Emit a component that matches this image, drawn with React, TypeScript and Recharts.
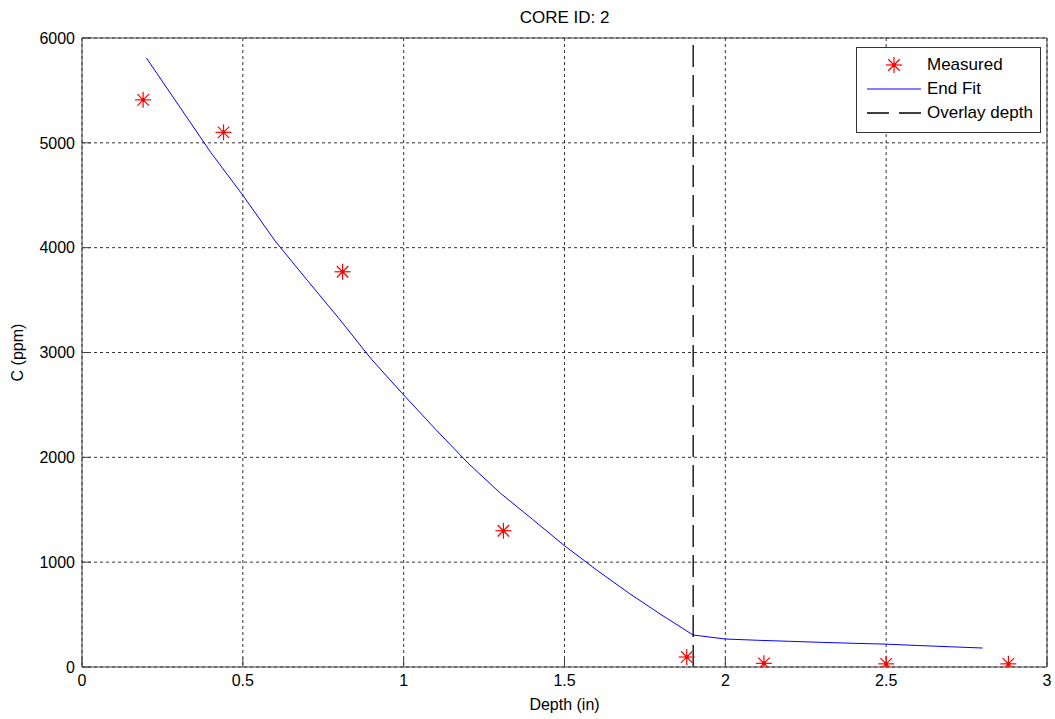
import {
  CartesianGrid,
  ComposedChart,
  Line,
  ReferenceLine,
  Scatter,
  XAxis,
  YAxis,
} from 'recharts'

const measuredDepth = [0.19, 0.44, 0.81, 1.31, 1.88, 2.12, 2.5, 2.88]
const measuredC = [5410, 5100, 3770, 1300, 95, 35, 30, 30]

const fitDepth = [
  0.2, 0.3, 0.4, 0.5, 0.6, 0.7, 0.8, 0.9, 1.0, 1.1, 1.2, 1.3, 1.4, 1.5, 1.6, 1.7, 1.8, 1.9,
  2.0, 2.1, 2.2, 2.3, 2.4, 2.5, 2.6, 2.7, 2.8,
]
const fitC = [
  5810, 5360, 4910, 4500, 4065, 3690, 3320, 2935, 2595, 2265, 1945, 1660, 1410, 1157, 925, 705,
  500, 305, 267, 255, 245, 235, 226, 218, 205, 193, 181,
]

const overlayDepth = 1.9

const xTicks = [0, 0.5, 1, 1.5, 2, 2.5, 3]
const yTicks = [0, 1000, 2000, 3000, 4000, 5000, 6000]

const measured = measuredDepth.map((x, i) => ({ x, c: measuredC[i] }))
const fit = fitDepth.map((x, i) => ({ x, c: fitC[i] }))

const FONT = '"Liberation Sans", Arial, sans-serif'
const AXIS = '#404040'
const tickStyle = { fill: '#000', fontSize: 16, fontFamily: FONT }

function Star({ cx, cy, size = 8 }: { cx?: number; cy?: number; size?: number }) {
  if (cx == null || cy == null) return null
  const d = size * 0.72
  return (
    <g stroke="#ff0000" strokeWidth={1.2}>
      <line x1={cx - size} y1={cy} x2={cx + size} y2={cy} />
      <line x1={cx} y1={cy - size} x2={cx} y2={cy + size} />
      <line x1={cx - d} y1={cy - d} x2={cx + d} y2={cy + d} />
      <line x1={cx - d} y1={cy + d} x2={cx + d} y2={cy - d} />
      <circle cx={cx} cy={cy} r={2} fill="#ff0000" stroke="none" />
    </g>
  )
}

function LegendBox() {
  const row = { display: 'flex', alignItems: 'center', height: 24 }
  return (
    <div
      style={{
        position: 'absolute',
        left: 856,
        top: 47,
        width: 183,
        height: 79,
        border: '1px solid #333',
        background: '#fff',
        fontFamily: FONT,
        fontSize: 17,
        color: '#000',
        padding: '5px 0 0 0',
        boxSizing: 'content-box',
      }}
    >
      <div style={row}>
        <svg width={70} height={24}>
          <Star cx={37} cy={12} />
        </svg>
        <span>Measured</span>
      </div>
      <div style={row}>
        <svg width={70} height={24}>
          <line x1={10} y1={12} x2={64} y2={12} stroke="#0000ff" strokeWidth={1} />
        </svg>
        <span>End Fit</span>
      </div>
      <div style={row}>
        <svg width={70} height={24}>
          <line x1={10} y1={12} x2={64} y2={12} stroke="#000" strokeWidth={1.3} strokeDasharray="22 10" />
        </svg>
        <span>Overlay depth</span>
      </div>
    </div>
  )
}

export default function App() {
  return (
    <div style={{ position: 'relative', width: 1055, height: 719, fontFamily: FONT, background: '#fff', overflow: 'hidden' }}>
      <style>{'body{margin:0;overflow:hidden}'}</style>
      <div style={{ position: 'absolute', left: 8, top: 8 }}>
        <ComposedChart width={1047} height={711} margin={{ top: 0, right: 0, left: 0, bottom: 0 }}>
          <CartesianGrid stroke="#333" strokeDasharray="3 3" horizontalValues={yTicks} verticalValues={xTicks} />
          <XAxis
            dataKey="x"
            type="number"
            domain={[0, 3]}
            ticks={xTicks}
            allowDataOverflow
            height={52}
            stroke={AXIS}
            tickSize={-9}
            tickMargin={17}
            tick={tickStyle}
            label={{ value: 'Depth (in)', position: 'insideBottom', offset: 9, fill: '#000', fontSize: 16 }}
          />
          <XAxis
            xAxisId="top"
            dataKey="x"
            orientation="top"
            type="number"
            domain={[0, 3]}
            ticks={xTicks}
            allowDataOverflow
            height={30}
            stroke={AXIS}
            tickSize={9}
            tick={false}
            label={{ value: 'CORE ID: 2', position: 'insideTop', offset: 3, fill: '#000', fontSize: 17 }}
          />
          <YAxis
            type="number"
            domain={[0, 6000]}
            ticks={yTicks}
            allowDataOverflow
            width={74}
            stroke={AXIS}
            tickSize={-9}
            tickMargin={16}
            tick={tickStyle}
            label={{
              value: 'C (ppm)',
              angle: -90,
              position: 'insideLeft',
              offset: 9,
              fill: '#000',
              fontSize: 16,
              style: { textAnchor: 'middle' },
            }}
          />
          <YAxis
            yAxisId="right"
            orientation="right"
            type="number"
            domain={[0, 6000]}
            ticks={yTicks}
            allowDataOverflow
            width={8}
            stroke={AXIS}
            tickSize={9}
            tick={false}
          />
          <Line
            data={fit}
            dataKey="c"
            type="linear"
            stroke="#0000ff"
            strokeWidth={1}
            dot={false}
            activeDot={false}
            isAnimationActive={false}
          />
          <Scatter data={measured} dataKey="c" shape={(p: any) => <Star cx={p.cx} cy={p.cy} />} isAnimationActive={false} />
          <Scatter
            data={measured}
            dataKey="c"
            xAxisId="top"
            yAxisId="right"
            shape={() => <g />}
            legendType="none"
            isAnimationActive={false}
          />
          <ReferenceLine x={overlayDepth} stroke="#000" strokeWidth={1.3} strokeDasharray="22 8" />
        </ComposedChart>
      </div>
      <LegendBox />
    </div>
  )
}
